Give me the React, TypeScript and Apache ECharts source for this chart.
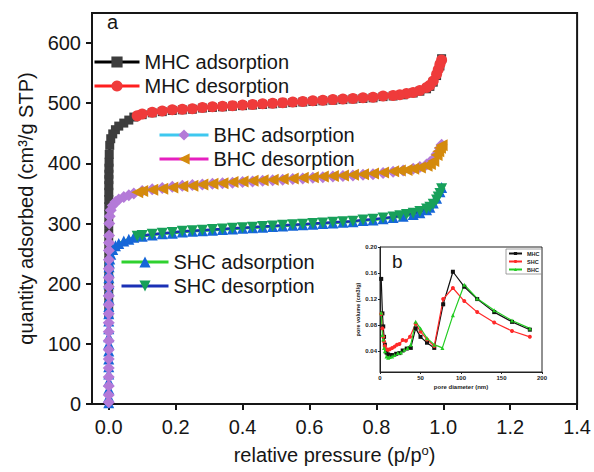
import React, { useEffect, useRef } from "react";
import * as echarts from "echarts";

// ---------- isotherm data (relative pressure p/p0, quantity adsorbed cm3/g STP) ----------
const pAds = [
  0.000001, 0.000002, 0.000004, 0.000007, 0.00001, 0.000015, 0.00002, 0.00003, 0.00004, 0.00005,
  0.00007, 0.0001, 0.00013, 0.00017, 0.00022, 0.0003, 0.0004, 0.0005, 0.0007, 0.001,
  0.0015, 0.003, 0.006, 0.012, 0.02, 0.03, 0.045, 0.06, 0.075,
  0.1, 0.13, 0.16, 0.19, 0.22, 0.25, 0.28, 0.31, 0.34, 0.37, 0.4, 0.43, 0.46, 0.49, 0.52, 0.55,
  0.58, 0.61, 0.64, 0.67, 0.7, 0.73, 0.76, 0.79, 0.82, 0.85, 0.88, 0.91, 0.93, 0.95, 0.96, 0.97,
  0.98, 0.99, 0.995,
];
const mhcAds = [
  150, 165, 180, 195, 210, 225, 240, 255, 270, 285,
  300, 315, 328, 340, 352, 363, 373, 382, 392, 402,
  415, 430, 441, 449, 456, 462, 467, 472, 477,
  481, 484, 486, 488, 489, 490, 492, 493, 494, 495, 496, 497, 498, 499, 500, 501,
  502, 503, 504, 505, 506, 507, 508, 509, 511, 512, 514, 517, 520, 524, 528, 535,
  546, 562, 574,
];
const bhcAds = [
  3, 15, 30, 45, 60, 75, 90, 105, 120, 135,
  150, 165, 180, 195, 210, 225, 240, 255, 268, 280,
  300, 312, 322, 330, 336, 340, 344, 347, 350,
  354, 357, 359, 361, 363, 364, 365, 366, 367, 368, 369, 370, 371, 372, 373, 374,
  375, 376, 377, 378, 379, 380, 381, 382, 384, 386, 388, 391, 394, 398, 402, 407,
  415, 425, 431,
];
const shcAds = [
  2, 12, 25, 38, 50, 62, 75, 88, 100, 112,
  125, 138, 150, 162, 175, 188, 200, 210, 220, 228,
  235, 241, 249, 257, 263, 267, 271, 274, 277,
  279, 281, 283, 284, 286, 287, 288, 289, 290, 291, 292, 293, 294, 295, 296, 297,
  298, 299, 300, 301, 302, 303, 305, 306, 308, 310, 312, 315, 318, 323, 327, 334,
  342, 353, 360,
];
const pDes = [
  0.995, 0.99, 0.985, 0.98, 0.97, 0.96, 0.95, 0.93, 0.91, 0.89, 0.87, 0.85, 0.82, 0.79, 0.76,
  0.73, 0.7, 0.67, 0.64, 0.61, 0.58, 0.55, 0.52, 0.49, 0.46, 0.43, 0.4, 0.37, 0.34, 0.31,
  0.28, 0.25, 0.22, 0.19, 0.16, 0.13, 0.1, 0.085,
];
const mhcDes = [
  572, 565, 556, 548, 537, 530, 526, 521, 518, 516, 514, 513, 512, 510, 509,
  508, 507, 506, 505, 504, 503, 502, 501, 500, 499, 498, 497, 496, 495, 494,
  493, 491, 490, 489, 487, 485, 482, 479,
];
const bhcDes = [
  430, 426, 420, 414, 404, 399, 396, 393, 391, 389, 388, 387, 385, 383, 382,
  381, 380, 379, 378, 377, 376, 375, 374, 373, 372, 371, 370, 369, 367, 366,
  365, 363, 362, 360, 358, 356, 354, 352,
];
const shcDes = [
  358, 350, 344, 339, 332, 327, 324, 320, 317, 315, 313, 311, 309, 307, 306,
  304, 303, 302, 301, 300, 299, 298, 297, 296, 295, 294, 293, 292, 291, 290,
  289, 288, 287, 285, 284, 282, 280, 279,
];

// ---------- inset: pore size distribution (nm, cm3/g) ----------
const mhcPoreD = [1.5, 3, 4, 5, 6, 8, 10, 13, 16, 20, 24, 28, 33, 38, 44, 50, 58, 67, 78, 90, 104, 120, 141, 163, 185];
const mhcPoreV = [0.151, 0.098, 0.078, 0.062, 0.05, 0.038, 0.035, 0.034, 0.034, 0.036, 0.037, 0.041, 0.044, 0.045, 0.075, 0.062, 0.053, 0.045, 0.112, 0.162, 0.139, 0.12, 0.1, 0.085, 0.073];
const shcPoreD = [1.5, 3, 4, 5, 6, 8, 10, 12, 15, 18, 21, 24, 28, 32, 37, 44, 50, 58, 67, 78, 90, 104, 120, 141, 163, 185];
const shcPoreV = [0.097, 0.075, 0.062, 0.055, 0.048, 0.043, 0.042, 0.043, 0.045, 0.047, 0.05, 0.051, 0.057, 0.056, 0.062, 0.082, 0.07, 0.058, 0.048, 0.12, 0.137, 0.117, 0.1, 0.084, 0.071, 0.062];
const bhcPoreD = [1.5, 3, 4, 5, 6, 8, 10, 12, 15, 18, 22, 26, 30, 34, 38, 44, 50, 58, 67, 77, 90, 104, 120, 141, 163, 185];
const bhcPoreV = [0.099, 0.065, 0.058, 0.045, 0.04, 0.032, 0.03, 0.031, 0.032, 0.034, 0.037, 0.038, 0.042, 0.045, 0.05, 0.085, 0.075, 0.06, 0.05, 0.045, 0.095, 0.142, 0.121, 0.103, 0.087, 0.075];

// ---------- ticks ----------
const xTicks = [0, 0.2, 0.4, 0.6, 0.8, 1.0, 1.2, 1.4];
const yTicks = [0, 100, 200, 300, 400, 500, 600];
const insetXTicks = [0, 50, 100, 150, 200];
const insetYTicks = [0.04, 0.08, 0.12, 0.16, 0.2];

const FONT = "'Liberation Sans', Arial, sans-serif";
const INK = "#161616";

const pairs = (xs: number[], ys: number[]) => xs.map((x, i) => [x, ys[i]]);

function mainSeries(name: string, xs: number[], ys: number[], symbol: string, size: number, marker: string, line: string, rotate = 0) {
  return {
    name,
    type: "line",
    xAxisIndex: 0,
    yAxisIndex: 0,
    data: pairs(xs, ys),
    symbol,
    symbolSize: size,
    symbolRotate: rotate,
    showAllSymbol: true,
    itemStyle: { color: marker, opacity: 1 },
    lineStyle: { color: line, width: 2.5 },
    emphasis: { disabled: true },
  };
}

function insetSeries(name: string, xs: number[], ys: number[], symbol: string, color: string) {
  return {
    name,
    type: "line",
    xAxisIndex: 1,
    yAxisIndex: 1,
    data: pairs(xs, ys),
    symbol,
    symbolSize: 4,
    showAllSymbol: true,
    itemStyle: { color },
    lineStyle: { color, width: 1.2 },
    emphasis: { disabled: true },
  };
}

export default function App() {
  const ref = useRef<HTMLDivElement>(null);
  useEffect(() => {
    document.body.style.margin = "0";
    if (!ref.current) return;
    const chart = echarts.init(ref.current, null, { renderer: "svg" });
    const bigLegend = {
      orient: "vertical",
      padding: 0,
      itemHeight: 14,
      itemGap: 4,
      lineStyle: { width: 3 },
      textStyle: { fontSize: 20, color: INK, fontFamily: FONT, lineHeight: 20 },
      selectedMode: false,
    };
    chart.setOption({
      animation: false,
      backgroundColor: "#fff",
      textStyle: { fontFamily: FONT },
      grid: [
        { left: 92, right: 15, top: 13, bottom: 68, show: true, borderColor: INK, borderWidth: 2, backgroundColor: "transparent" },
        { left: 380, top: 247, width: 162, height: 125, show: true, borderColor: "#222", borderWidth: 1, backgroundColor: "#fff" },
      ],
      xAxis: [
        {
          type: "value",
          gridIndex: 0,
          min: -0.05,
          max: 1.4,
          splitLine: { show: false },
          axisLine: { onZero: false, lineStyle: { color: INK, width: 2 } },
          axisTick: { customValues: xTicks, length: 6, lineStyle: { color: INK, width: 2 } },
          axisLabel: { customValues: xTicks, formatter: (v: number) => v.toFixed(1), fontSize: 20, color: INK, margin: 13, fontFamily: FONT },
          name: "{a|relative pressure (p/p}{s|o}{a|)}",
          nameLocation: "middle",
          nameGap: 40,
          nameTextStyle: {
            rich: {
              a: { fontSize: 20, color: INK, fontFamily: FONT },
              s: { fontSize: 13, color: INK, fontFamily: FONT, verticalAlign: "top", padding: [0, 0, 8, 0] },
            },
          },
        },
        {
          type: "value",
          gridIndex: 1,
          min: 0,
          max: 200,
          splitLine: { show: false },
          axisLine: { onZero: false, lineStyle: { color: "#222", width: 1 } },
          axisTick: { customValues: insetXTicks, length: 2, lineStyle: { color: "#222", width: 1 } },
          axisLabel: { customValues: insetXTicks, fontSize: 6, fontWeight: "bold", color: "#222", margin: 3, fontFamily: FONT },
          name: "pore diameter (nm)",
          nameLocation: "middle",
          nameGap: 12,
          nameTextStyle: { fontSize: 6, fontWeight: "bold", color: "#222", fontFamily: FONT },
        },
      ],
      yAxis: [
        {
          type: "value",
          gridIndex: 0,
          min: 0,
          max: 650,
          splitLine: { show: false },
          axisLine: { onZero: false, lineStyle: { color: INK, width: 2 } },
          axisTick: { customValues: yTicks, length: 6, lineStyle: { color: INK, width: 2 } },
          axisLabel: { customValues: yTicks, fontSize: 20, color: INK, margin: 11, fontFamily: FONT },
          name: "quantity adsorbed (cm³/g STP)",
          nameLocation: "middle",
          nameGap: 56,
          nameTextStyle: { fontSize: 20, color: INK, fontFamily: FONT },
        },
        {
          type: "value",
          gridIndex: 1,
          min: 0.008,
          max: 0.2,
          splitLine: { show: false },
          axisLine: { onZero: false, lineStyle: { color: "#222", width: 1 } },
          axisTick: { customValues: insetYTicks, length: 2, lineStyle: { color: "#222", width: 1 } },
          axisLabel: { customValues: insetYTicks, formatter: (v: number) => v.toFixed(2), fontSize: 6, fontWeight: "bold", color: "#222", margin: 3, fontFamily: FONT },
          name: "pore volume (cm3/g)",
          nameLocation: "middle",
          nameGap: 17,
          nameTextStyle: { fontSize: 5.5, fontWeight: "bold", color: "#222", fontFamily: FONT },
        },
      ],
      legend: [
        { ...bigLegend, data: ["MHC adsorption", "MHC desorption"], left: 93, top: 52, itemWidth: 45 },
        { ...bigLegend, data: ["BHC adsorption", "BHC desorption"], left: 158, top: 125, itemWidth: 49 },
        { ...bigLegend, data: ["SHC adsorption", "SHC desorption"], left: 120, top: 252, itemWidth: 47 },
        {
          data: ["MHC", "SHC", "BHC"],
          orient: "vertical",
          left: 506,
          top: 249,
          padding: [1, 2, 1, 2],
          itemWidth: 13,
          itemHeight: 4,
          itemGap: 1,
          borderColor: "#888",
          borderWidth: 0.8,
          backgroundColor: "#fff",
          selectedMode: false,
          textStyle: { fontSize: 5.5, fontWeight: "bold", color: "#222", fontFamily: FONT, lineHeight: 7 },
        },
      ],
      graphic: [
        { type: "text", left: 107, top: 12, style: { text: "a", fontSize: 20, fill: INK, fontFamily: FONT } },
        { type: "text", left: 392, top: 252, style: { text: "b", fontSize: 19, fill: INK, fontFamily: FONT } },
      ],
      series: [
        mainSeries("MHC adsorption", pAds, mhcAds, "rect", 9, "#3d3d3d", "#000000"),
        mainSeries("MHC desorption", pDes, mhcDes, "circle", 11, "#ef3b3b", "#ff1f1f"),
        mainSeries("SHC adsorption", pAds, shcAds, "triangle", 11, "#1566d8", "#2fd12f"),
        mainSeries("SHC desorption", pDes, shcDes, "triangle", 11, "#17a05a", "#1a30b5", 180),
        mainSeries("BHC adsorption", pAds, bhcAds, "diamond", 12, "#b47ad8", "#3ec8ef"),
        mainSeries("BHC desorption", pDes, bhcDes, "triangle", 12, "#d48a0c", "#e61fbf", 90),
        insetSeries("MHC", mhcPoreD, mhcPoreV, "rect", "#111111"),
        insetSeries("SHC", shcPoreD, shcPoreV, "circle", "#ff2a2a"),
        insetSeries("BHC", bhcPoreD, bhcPoreV, "triangle", "#22cc22"),
      ],
    });
    return () => chart.dispose();
  }, []);
  return <div ref={ref} style={{ width: 594, height: 472 }} />;
}
